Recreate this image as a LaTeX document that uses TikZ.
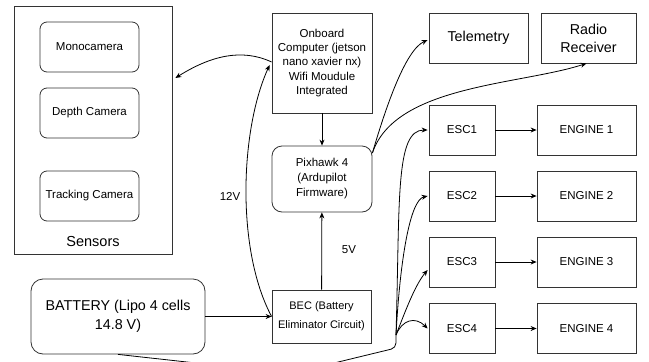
\documentclass[tikz,border=0pt]{standalone}
\usepackage{fontspec}
\setmainfont{Liberation Sans}
\usetikzlibrary{arrows.meta}

\begin{document}
\begin{tikzpicture}[x=1pt,y=-1pt,line width=0.8pt,>={Stealth[length=6pt,width=5pt]},
	box/.style={draw=black!80,align=center,inner sep=1pt,font=\fontsize{11.5}{14.3}\selectfont},
	bigbox/.style={box,font=\fontsize{14.3}{18}\selectfont},
	cam/.style={box,rounded corners=7pt,minimum width=99pt,minimum height=50pt},
	esc/.style={box,minimum width=66pt,minimum height=50pt},
	engine/.style={box,minimum width=99pt,minimum height=50pt},
	lbl/.style={font=\fontsize{11.5}{13}\selectfont}]
	\useasboundingbox (0,0) rectangle (649,362);

	\node[box,minimum width=158pt,minimum height=248pt] (sens) at (93,130) {};
	\node[font=\fontsize{14.5}{17}\selectfont] (senslbl) at (93,242) {Sensors};
	\node[cam] (mono) at (89.5,47) {Monocamera};
	\node[cam] (depth) at (89.5,113) {Depth Camera};
	\node[cam] (track) at (89.5,196) {Tracking Camera};

	\node[box,minimum width=100pt,minimum height=100pt] (comp) at (322,63)
		{Onboard\\Computer (jetson\\nano xavier nx)\\Wifi Moudule\\Integrated};
	\node[box,rounded corners=10pt,minimum width=100pt,minimum height=66pt,
		font=\fontsize{11.5}{15}\selectfont] (pix) at (322,179)
		{Pixhawk 4\\(Ardupilot\\Firmware)};
	\node[box,minimum width=99pt,minimum height=53pt,
		font=\fontsize{11}{19}\selectfont] (bec) at (321.5,316.5)
		{BEC (Battery\\Eliminator Circuit)};
	\node[bigbox,rounded corners=12pt,minimum width=174pt,minimum height=75pt,
		font=\fontsize{14.3}{19}\selectfont] (bat) at (118,316.5)
		{BATTERY (Lipo 4 cells\\14.8 V)};

	\node[bigbox,minimum width=99pt,minimum height=50pt] (tele) at (478.5,38) {Telemetry};
	\node[bigbox,minimum width=95pt,minimum height=50pt] (radio) at (588.5,38) {Radio\\Receiver};

	\node[esc] (esc1) at (462,130) {ESC1};
	\node[esc] (esc2) at (462,196) {ESC2};
	\node[esc] (esc3) at (462,262) {ESC3};
	\node[esc] (esc4) at (462,328.5) {ESC4};
	\node[engine] (eng1) at (586.5,130) {ENGINE 1};
	\node[engine] (eng2) at (586.5,196) {ENGINE 2};
	\node[engine] (eng3) at (586.5,262) {ENGINE 3};
	\node[engine] (eng4) at (586.5,328.5) {ENGINE 4};

	\coordinate (fan) at (396,335);

	\draw[->] ([yshift=1pt]comp.west) .. controls +(-30,-14) and +(35,-22) .. ([xshift=3pt,yshift=52pt]sens.east);
	\draw[->] (bec.west) .. controls (236,250) and (240,130) .. ([xshift=-2pt,yshift=-2pt]comp.west);
	\node[lbl] (v12) at (230,196) {12V};
	\draw[->] (comp) -- (pix);
	\draw[->] (bec) -- (pix);
	\node[lbl] (v5) at (349,250) {5V};
	\draw[->] (bat) -- (bec);

	\draw[->] ([yshift=26pt]pix.east) .. controls (385,110) and (405,50) .. ([xshift=-1pt,yshift=-2pt]tele.west);
	\draw[->] ([yshift=26pt]pix.east) .. controls (395,85) and (520,85) .. ([xshift=-2pt]radio.south);

	\draw[rounded corners=5pt] (bat.south) -- (205,364) -- (330,364) -- (396,348) -- (fan);
	\draw[->] (fan) .. controls (400,200) and (395,130) .. ([xshift=-1pt]esc1.west);
	\draw[->] (fan) .. controls (400,260) and (410,200) .. ([xshift=-1pt]esc2.west);
	\draw[->] (fan) .. controls (405,312) and (415,285) .. ([xshift=-1pt,yshift=-8pt]esc3.west);
	\draw[->] (fan) .. controls (402,320) and (415,316) .. ([xshift=-1pt]esc4.west);

	\foreach \i in {1,...,4}
		\draw[->] (esc\i) -- (eng\i);
\end{tikzpicture}
\end{document}
